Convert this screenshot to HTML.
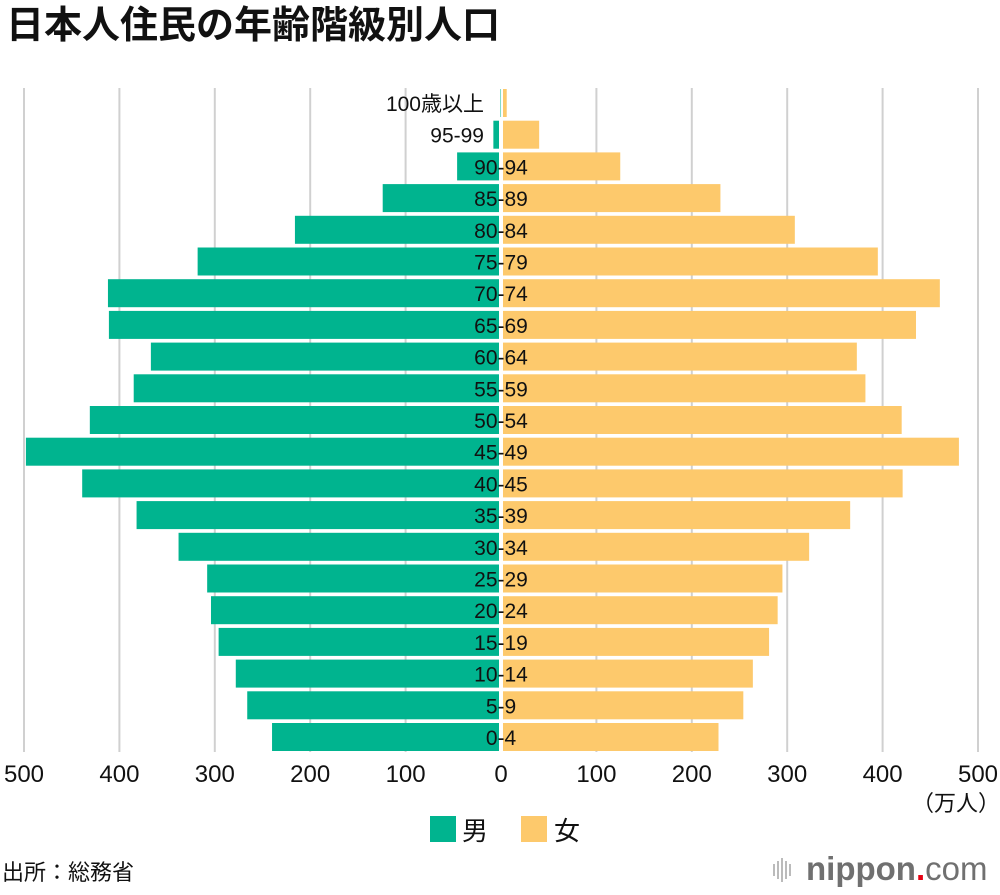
<!DOCTYPE html>
<html><head><meta charset="utf-8">
<style>
html,body{margin:0;padding:0;background:#fff;}
body{width:1000px;height:890px;overflow:hidden;font-family:"Liberation Sans","Noto Sans CJK JP",sans-serif;}
svg text{font-family:"Liberation Sans","Noto Sans CJK JP",sans-serif;}
</style></head>
<body>
<svg id="chart" width="1000" height="890" xmlns="http://www.w3.org/2000/svg">
<text x="6" y="38" font-size="38" font-weight="bold" fill="#111">日本人住民の年齢階級別人口</text>
<g id="grid"></g>
<g id="bars"></g>
<g id="labels"></g>
<g id="ticks"></g>
<text x="1000" y="811" font-size="22" text-anchor="end" fill="#111">（万人）</text>
<g>
<rect x="430" y="816" width="26" height="26" fill="#00b48f"/>
<text x="462" y="840" font-size="26" fill="#111">男</text>
<rect x="521" y="816" width="26" height="26" fill="#fdc96c"/>
<text x="554" y="840" font-size="26" fill="#111">女</text>
</g>
<text x="2" y="880" font-size="22" fill="#111">出所：総務省</text>
<g>
<g fill="#bbb">
<rect x="773" y="864" width="2" height="12"/><rect x="777" y="861" width="2" height="18"/><rect x="781" y="858" width="2" height="24"/><rect x="785" y="861" width="2" height="18"/><rect x="789" y="864" width="2" height="12"/>
</g>
<text x="806" y="880" font-size="33" font-weight="bold" fill="#707070">nippon<tspan fill="#e60012">.</tspan><tspan font-weight="normal">com</tspan></text>
</g>
</svg>
<script>
const ages=["0-4","5-9","10-14","15-19","20-24","25-29","30-34","35-39","40-45","45-49","50-54","55-59","60-64","65-69","70-74","75-79","80-84","85-89","90-94","95-99","100歳以上"];
const male=[240,266,278,296,304,308,338,382,439,498,431,385,367,411,412,318,216,124,46,8,0.5];
const female=[228,254,264,281,290,295,323,366,421,480,420,382,373,435,460,395,308,230,125,40,6];
const tickVals=[500,400,300,200,100,0,100,200,300,400,500];
const NS="http://www.w3.org/2000/svg";
const cx=501, k=477/500;
const yRow=i=>737-i*31.7;
function mk(tag,attrs,parent){const e=document.createElementNS(NS,tag);for(const a in attrs)e.setAttribute(a,attrs[a]);document.getElementById(parent).appendChild(e);return e;}
tickVals.forEach((t,j)=>{
  const side=j<5?-1:(j===5?0:1);
  const x=cx+side*t*k;
  if(t!==0){const g=mk('line',{x1:x,x2:x,y1:88,y2:752,stroke:'#d0d0d0','stroke-width':2},'grid');
  
  }
  const tx=mk('text',{x:x,y:782,'font-size':24,'text-anchor':'middle',fill:'#111'},'ticks');
  tx.textContent=t;
  
  
});
ages.forEach((a,i)=>{
  const y=yRow(i);
  const mw=Math.max(male[i]*k-2,0.5), fw=Math.max(female[i]*k-2,0.5);
  const m=mk('rect',{x:cx-male[i]*k,y:y-14,width:mw,height:28,fill:'#00b48f'},'bars');
  
  
  const f=mk('rect',{x:cx+2,y:y-14,width:fw,height:28,fill:'#fdc96c'},'bars');
  
  
  const outer=i>=19;
  const t=mk('text',{x:outer?484:cx,y:y+8,'font-size':21,'text-anchor':outer?'end':'middle',fill:'#111'},'labels');
  t.textContent=a;
  
  
});
</script>
</body></html>
